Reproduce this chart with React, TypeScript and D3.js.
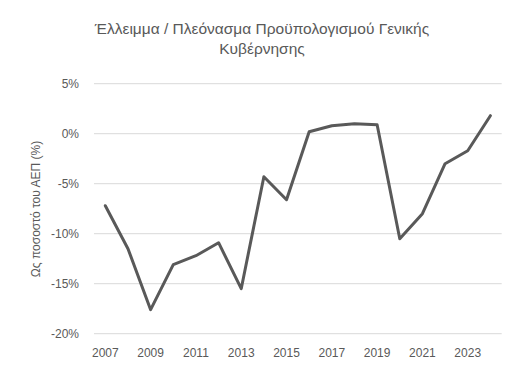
import React from "react";
import * as d3 from "d3";

const years = [2007, 2008, 2009, 2010, 2011, 2012, 2013, 2014, 2015, 2016, 2017, 2018, 2019, 2020, 2021, 2022, 2023, 2024];
const balance = [-7.2, -11.5, -17.6, -13.1, -12.2, -10.9, -15.5, -4.3, -6.6, 0.2, 0.8, 1.0, 0.9, -10.5, -8.0, -3.0, -1.7, 1.8];
const yTicks = [5, 0, -5, -10, -15, -20];
const xTickYears = [2007, 2009, 2011, 2013, 2015, 2017, 2019, 2021, 2023];
const titleLines = ["Έλλειμμα / Πλεόνασμα Προϋπολογισμού Γενικής", "Κυβέρνησης"];
const yAxisTitle = "Ως ποσοστό του ΑΕΠ (%)";

export default function App() {
  const W = 525, H = 375;
  const left = 94, right = 501.7, top = 83.7, bottom = 333.7;
  const x = d3.scalePoint<number>().domain(years).range([left, right]).padding(0.5);
  const y = d3.scaleLinear().domain([-20, 5]).range([bottom, top]);
  const line = d3.line<number>().x((_, i) => x(years[i])!).y((d) => y(d));
  const font = "'Liberation Sans', Arial, sans-serif";
  const color = "#595959";
  return (
    <svg width={W} height={H} style={{ position: "absolute", left: 0, top: 0, background: "#fff" }} fontFamily={font}>
      <rect width={W} height={H} fill="#fff" />
      {titleLines.map((t, i) => (
        <text key={i} x={262} y={34 + i * 20} textAnchor="middle" fontSize={15.5} fill={color}>{t}</text>
      ))}
      {yTicks.map((t) => (
        <g key={t}>
          <line x1={left} x2={right} y1={y(t)} y2={y(t)} stroke="#d9d9d9" strokeWidth={1} />
          <text x={79} y={y(t) + 4.3} textAnchor="end" fontSize={12} fill={color}>{t}%</text>
        </g>
      ))}
      {xTickYears.map((yr) => (
        <text key={yr} x={x(yr)!} y={357} textAnchor="middle" fontSize={12} fill={color}>{yr}</text>
      ))}
      <text transform={`translate(40,${209}) rotate(-90)`} textAnchor="middle" fontSize={12} fill={color}>{yAxisTitle}</text>
      <path d={line(balance)!} fill="none" stroke={color} strokeWidth={3} strokeLinejoin="round" strokeLinecap="round" />
    </svg>
  );
}
